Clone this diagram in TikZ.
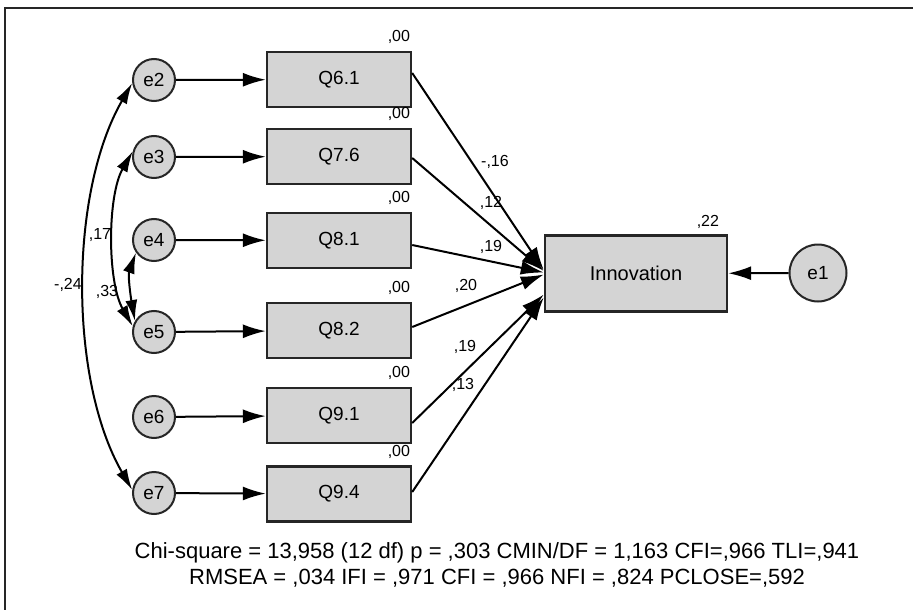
\documentclass[tikz,border=0pt]{standalone}
\usepackage{fontspec}
\setmainfont{Liberation Sans}
\usetikzlibrary{arrows.meta}

\begin{document}
\begin{tikzpicture}[x=1pt, y=-1pt,
  obsbox/.style={draw=black!85, line width=2.4pt, fill=black!17, minimum width=144pt, minimum height=55pt, inner sep=0pt, font=\fontsize{19}{22}\selectfont},
  errcirc/.style={circle, draw=black!85, line width=2pt, fill=black!17, minimum size=42pt, inner sep=0pt, font=\fontsize{19}{22}\selectfont},
  reg/.style={line width=2pt, -{Latex[length=23pt,width=14pt]}},
  cov/.style={line width=2pt, {Latex[length=21pt,width=12pt]}-{Latex[length=21pt,width=12pt]}},
  coef/.style={font=\fontsize{16}{19}\selectfont, inner sep=0pt}]

\useasboundingbox (0,0) rectangle (913,610);

% Frame
\draw[line width=1.6pt, black!85] (5,610) -- (5,8) -- (913,8);

% Observed variables
\node[obsbox] (q61) at (339,79.5) {Q6.1};
\node[obsbox] (q76) at (339,156.5) {Q7.6};
\node[obsbox] (q81) at (339,240.5) {Q8.1};
\node[obsbox] (q82) at (339,330.5) {Q8.2};
\node[obsbox] (q91) at (339,415.5) {Q9.1};
\node[obsbox] (q94) at (339,494) {Q9.4};

% Dependent variable
\node[obsbox, minimum width=182pt, minimum height=76pt, font=\fontsize{20}{24}\selectfont] (inno) at (636,273.5) {Innovation};

% Error terms
\node[errcirc] (e2) at (154,80) {e2};
\node[errcirc] (e3) at (154,157) {e3};
\node[errcirc] (e4) at (154,240) {e4};
\node[errcirc] (e5) at (154,332) {e5};
\node[errcirc] (e6) at (154,417) {e6};
\node[errcirc] (e7) at (154,493) {e7};
\node[errcirc, minimum size=57pt] (e1) at (818,273) {e1};

% Squared multiple correlations
\foreach \q in {q61,q76,q81,q82,q91,q94}
  \node[coef, anchor=south east] (r\q) at ([shift={(-2,-7)}]\q.north east) {,00};
\node[coef, anchor=south east] (rinno) at ([shift={(-9,-6)}]inno.north east) {,22};

% Error paths
\draw[reg] (e2) -- (q61);
\draw[reg] (e3) -- (q76);
\draw[reg] (e4) -- (q81);
\draw[reg] (e5) -- (q82);
\draw[reg] (e6) -- (q91);
\draw[reg] (e7) -- (q94);
\draw[reg] (e1) -- (inno);

% Regression paths
\draw[reg] ([yshift=6.5pt]q61.east) -- ([yshift=3.5pt]inno.west);
\draw[reg] ([yshift=-1.5pt]q76.east) -- ([yshift=2.5pt]inno.west);
\draw[reg] ([yshift=-4.5pt]q81.east) -- ([yshift=1pt]inno.west);
\draw[reg] ([yshift=3.5pt]q82.east) -- ([yshift=-1pt]inno.west);
\draw[reg] ([yshift=-7.5pt]q91.east) -- ([yshift=-21pt]inno.west);
\draw[reg] ([yshift=2pt]q94.east) -- ([yshift=-24pt]inno.west);

\node[coef] (b61) at (495,162) {-,16};
\node[coef] (b76) at (491,203) {,12};
\node[coef] (b81) at (491,247) {,19};
\node[coef] (b82) at (466,286) {,20};
\node[coef] (b91) at (465,347) {,19};
\node[coef] (b94) at (463,385) {,13};

% Covariances
\draw[cov] (e2.188) to[out=240, in=120, looseness=0.8] (e7.172);
\draw[cov] (e3.165) to[out=240, in=120, looseness=0.75] (e5.165);
\draw[cov] (e4.215) to[out=250, in=100, looseness=0.9] (e5.150);

\node[coef] (c27) at (68,285) {-,24};
\node[coef] (c35) at (100,235) {,17};
\node[coef] (c45) at (107,292) {,33};

% Fit indices
\node[font=\fontsize{22}{25.5}\selectfont, align=center, inner sep=0pt] (fit) at (497,565)
  {Chi-square = 13,958 (12 df) p = ,303 CMIN/DF = 1,163 CFI=,966 TLI=,941\\
   RMSEA = ,034 IFI = ,971 CFI = ,966 NFI = ,824 PCLOSE=,592};

\end{tikzpicture}
\end{document}
